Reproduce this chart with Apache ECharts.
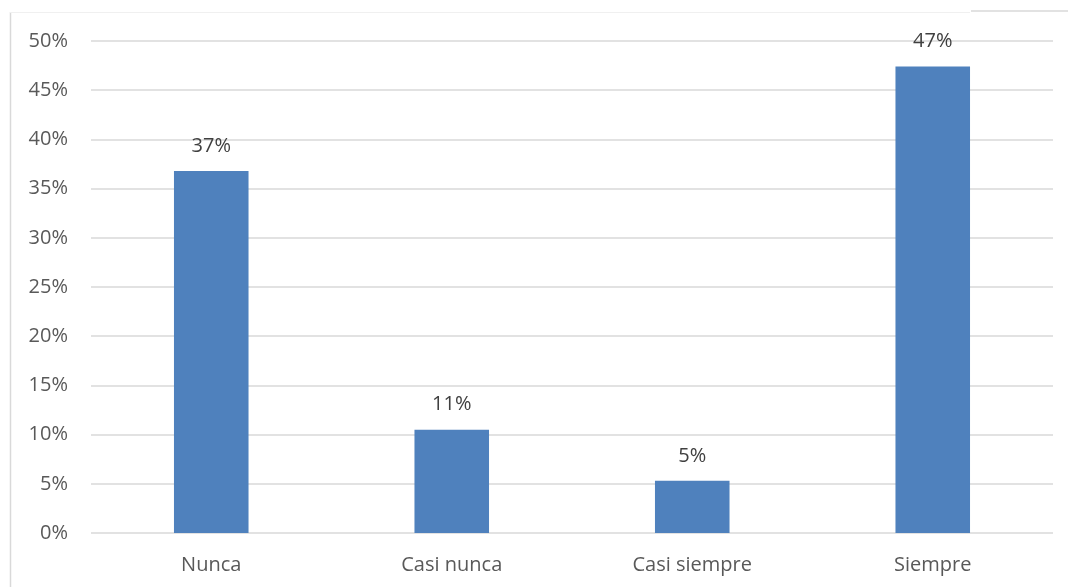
<!DOCTYPE html>
<html>
<head>
<meta charset="utf-8">
<script src="https://cdn.jsdelivr.net/npm/echarts@6/dist/echarts.min.js"></script>
<style>html,body{margin:0;padding:0;background:#fff}#c{width:1068px;height:587px}</style>
</head>
<body>
<div id="c"></div>
<script>
const categories = ['Nunca', 'Casi nunca', 'Casi siempre', 'Siempre'];
const values = [36.8, 10.5, 5.3, 47.4];
const yTicks = { min: 0, max: 50, interval: 5 };

const chart = echarts.init(document.getElementById('c'), null, { renderer: 'canvas' });
const font = "'Open Sans', 'Liberation Sans', sans-serif";
chart.setOption({
  animation: false,
  backgroundColor: '#ffffff',
  grid: { left: 91, right: 15, top: 41, bottom: 54 },
  xAxis: {
    type: 'category',
    data: categories,
    axisLine: { show: false },
    axisTick: { show: false },
    axisLabel: { color: '#595959', fontSize: 20, fontFamily: font, margin: 22 }
  },
  yAxis: {
    type: 'value',
    min: yTicks.min, max: yTicks.max, interval: yTicks.interval,
    axisLine: { show: false },
    axisTick: { show: false },
    splitLine: { lineStyle: { color: '#d9d9d9', width: 1.5 } },
    axisLabel: { color: '#595959', fontSize: 20, fontFamily: font, margin: 23, formatter: v => v + '%' }
  },
  series: [{
    type: 'bar',
    data: values,
    barWidth: '31%',
    itemStyle: { color: '#4f81bd' },
    label: {
      show: true, position: 'top', distance: 15,
      color: '#404040', fontSize: 20, fontFamily: font,
      formatter: p => Math.round(p.value) + '%'
    }
  }],
  graphic: [
    { type: 'line', shape: { x1: 10.5, y1: 12, x2: 10.5, y2: 587 }, style: { stroke: '#d9d9d9', lineWidth: 1.5 } },
    { type: 'line', shape: { x1: 10, y1: 12.5, x2: 970, y2: 12.5 }, style: { stroke: '#f0f0f0', lineWidth: 1 } },
    { type: 'line', shape: { x1: 971, y1: 11, x2: 1068, y2: 11 }, style: { stroke: '#d9d9d9', lineWidth: 1.5 } }
  ]
});
</script>
</body>
</html>
